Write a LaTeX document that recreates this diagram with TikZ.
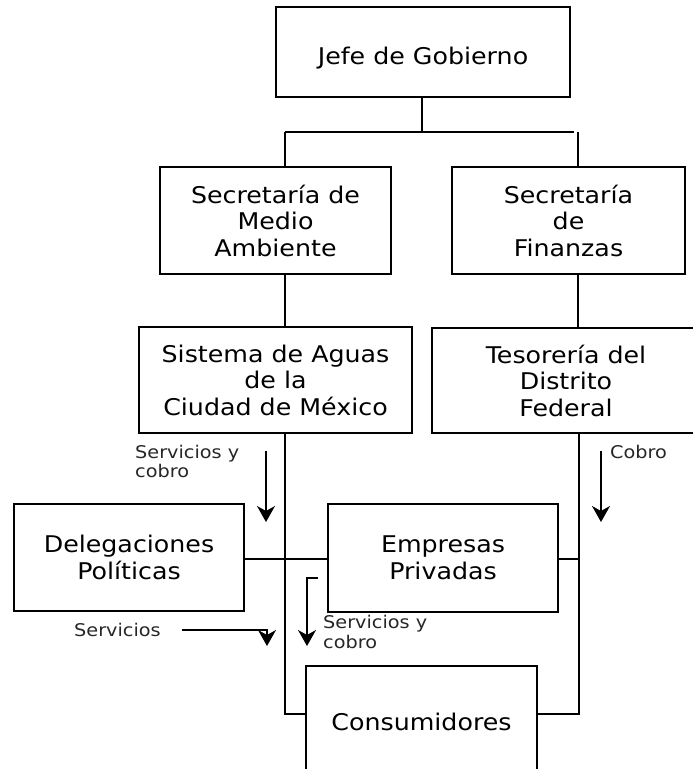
\documentclass[tikz,border=0pt]{standalone}
\usepackage{fontspec}
\setmainfont{DejaVu Sans}[FakeStretch=1.1]
\usetikzlibrary{arrows.meta}
\begin{document}
\begin{tikzpicture}[x=1pt,y=-1pt,
  box/.style={draw=black, line width=1.6pt, rectangle, align=center, inner sep=0pt,
    font=\fontsize{23}{26.5}\selectfont},
  lbl/.style={inner sep=0pt, align=left, anchor=west, font=\fontsize{17.5}{19.5}\selectfont, text=black!85},
  conn/.style={draw=black, line width=1.6pt},
  flow/.style={draw=black, line width=1.6pt, -{Stealth[length=16pt,width=18pt,inset=5pt]}}]
\useasboundingbox (0,0) rectangle (693,769);
\clip (0,0) rectangle (693,769);

% boxes
\node[box, minimum width=294pt, minimum height=90pt, text height=30pt] (jefe) at (423,52) {Jefe de Gobierno};
\node[box, minimum width=231pt, minimum height=107pt] (sma) at (275.5,220.5) {Secretaría de\\Medio\\Ambiente};
\node[box, minimum width=233pt, minimum height=107pt] (fin) at (568.5,220.5) {Secretaría\\de\\Finanzas};
\node[box, minimum width=273pt, minimum height=106pt] (sis) at (275.5,380) {Sistema de Aguas\\de la\\Ciudad de México};
\node[box, minimum width=268pt, minimum height=105pt] (tes) at (566,380.5) {Tesorería del\\Distrito\\Federal};
\node[box, minimum width=230pt, minimum height=107pt] (del) at (129,557.5) {Delegaciones\\Políticas};
\node[box, minimum width=230pt, minimum height=108pt] (emp) at (443,558) {Empresas\\Privadas};
\node[box, minimum width=231pt, minimum height=112pt] (con) at (421.5,722) {Consumidores};

% helper coordinates
\coordinate (bus) at (422,132);
\coordinate (busL) at (285,132);
\coordinate (busE) at (574,132);
\coordinate (busR) at (578,132);
\coordinate (colL) at (285,714);
\coordinate (colR) at (579,714);
\coordinate (midR) at (579,559);

% hierarchy connectors
\draw[conn] (jefe.south -| bus) -- (bus);
\draw[conn] (busL) -- (busE);
\draw[conn] (busL) -- (busL |- sma.north);
\draw[conn] (busR) -- (busR |- fin.north);
\draw[conn] (sma.south -| busL) -- (sis.north -| busL);
\draw[conn] (fin.south -| busR) -- (tes.north -| busR);

% lower connectors
\draw[conn] (sis.south -| colL) -- (colL) -- (con.west |- colL);
\draw[conn] (tes.south -| colR) -- (colR) -- (con.east |- colR);
\draw[conn] (del.east |- midR) -- (emp.west |- midR);
\draw[conn] (emp.east |- midR) -- (midR);

% flow arrows and labels
\coordinate (a1s) at (266,451); \coordinate (a1e) at (266,522);
\draw[flow] (a1s) -- (a1e);
\node[lbl] (l1) at (135,461.5) {Servicios y\\cobro};

\coordinate (a2s) at (601,451); \coordinate (a2e) at (601,522);
\draw[flow] (a2s) -- (a2e);
\node[lbl] (l2) at (610,452) {Cobro};

\coordinate (a3s) at (318,578); \coordinate (a3m) at (307,578); \coordinate (a3e) at (307,646);
\draw[flow] (a3s) -- (a3m) -- (a3e);
\node[lbl] (l3) at (323,632) {Servicios y\\cobro};

\node[lbl] (l4) at (74,630) {Servicios};
\coordinate (a4s) at (182,630); \coordinate (a4m) at (267,630); \coordinate (a4e) at (267,646);
\draw[flow] (a4s) -- (a4m) -- (a4e);
\end{tikzpicture}
\end{document}
